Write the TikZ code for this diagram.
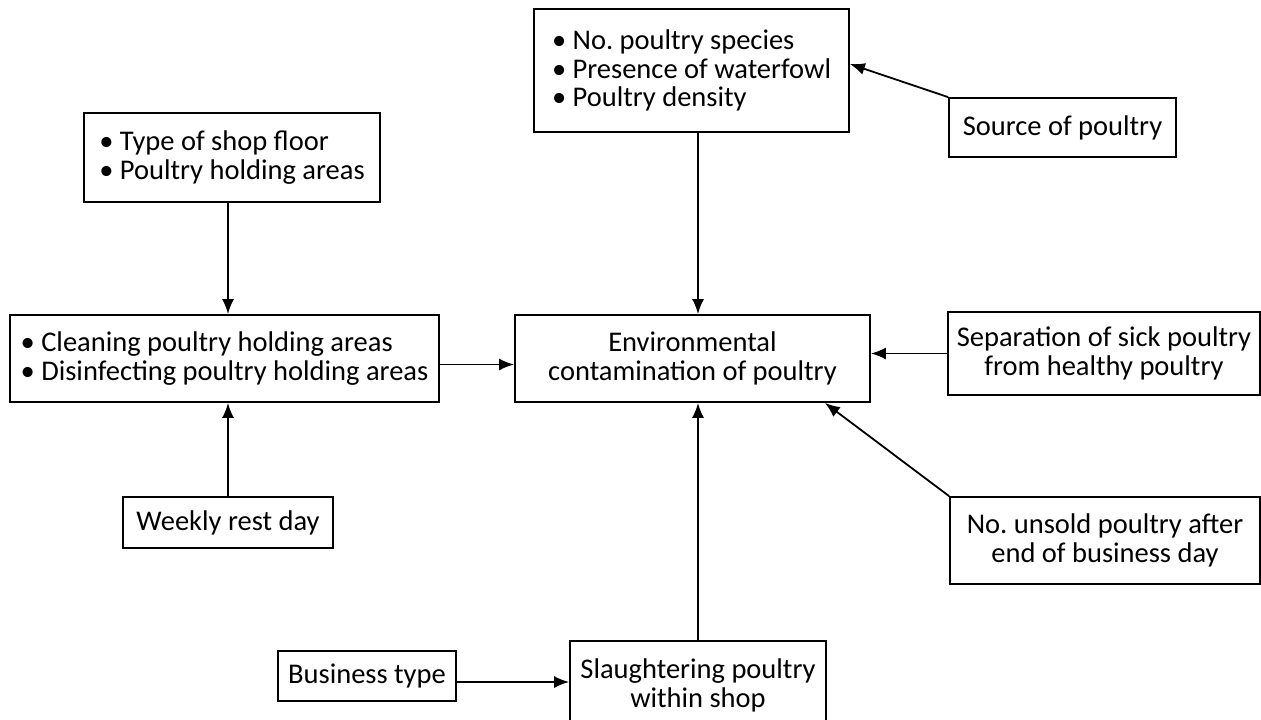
\documentclass[tikz,border=0pt]{standalone}
\usepackage{fontspec}
\setmainfont{Carlito}
\usepackage{tikz}
\usetikzlibrary{arrows.meta,calc}
\frenchspacing

\begin{document}
\begin{tikzpicture}[x=1pt, y=-1pt, line width=1.8pt,
    box/.style={rectangle, draw, line width=1.8pt, inner sep=0pt, font=\fontsize{28.5}{28.5}\selectfont},
    >={Latex[length=15pt,width=12pt]}]
    \useasboundingbox (0,0) rectangle (1261,720);

    % Factors
    \node[box, align=left, minimum width=315pt, minimum height=123pt] (species) at (691.5,70.5) {• No. poultry species\\• Presence of waterfowl\\• Poultry density};

    \node[box, align=center, minimum width=227pt, minimum height=59pt] (source) at (1062.5,127.5) {Source of poultry};

    \node[box, align=left, minimum width=296pt, minimum height=89pt] (floor) at (232,157.5) {• Type of shop floor\\• Poultry holding areas};

    \node[box, align=left, minimum width=429pt, minimum height=87pt] (cleaning) at (224.5,358.5) {• Cleaning poultry holding areas\\• Disinfecting poultry holding areas};

    \node[box, align=center, minimum width=355pt, minimum height=87pt] (env) at (692.5,358.5) {Environmental\\contamination of poultry};

    \node[box, align=center, minimum width=312pt, minimum height=83pt] (separation) at (1104,353.5) {Separation of sick poultry\\from healthy poultry};

    \node[box, align=center, minimum width=210pt, minimum height=51pt] (weekly) at (228,522.5) {Weekly rest day};

    \node[box, align=center, minimum width=310pt, minimum height=87pt] (unsold) at (1105,540.5) {No. unsold poultry after\\end of business day};

    \node[box, align=center, minimum width=178pt, minimum height=50pt] (business) at (367,676) {Business type};

    \node[box, align=center, minimum width=256pt, minimum height=89pt] (slaughter) at (698,685.5) {Slaughtering poultry\\within shop};

    % Arrows
    \coordinate (bt) at ($(business.east)+(0,6)$);
    \draw[->] (floor.south -| weekly.north) -- (cleaning.north -| weekly.north);
    \draw[->] (weekly.north) -- (weekly.north |- cleaning.south);
    \draw[->] ($(cleaning.east)+(0,6)$) -- ($(env.west)+(0,6)$);
    \draw[->] (species.south -| slaughter.north) -- (env.north -| slaughter.north);
    \draw[->] (source.north west) -- ($(species.east)+(0,-6.5)$);
    \draw[->] (separation.west) -- (separation.west -| env.east);
    \draw[->] (unsold.north west) -- ($(env.south east)+(-46,0)$);
    \draw[->] (slaughter.north) -- (slaughter.north |- env.south);
    \draw[->] (bt) -- (bt -| slaughter.west);
\end{tikzpicture}
\end{document}
